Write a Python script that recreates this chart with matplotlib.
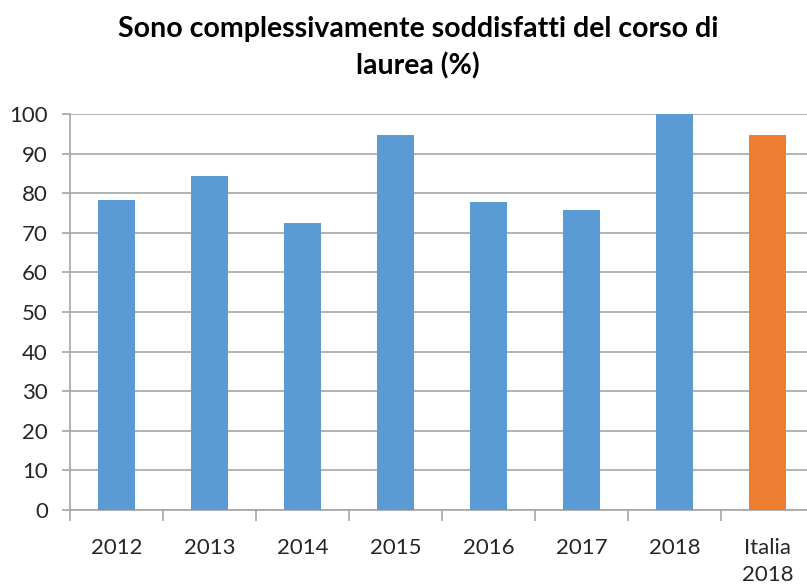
import numpy as np
import matplotlib.pyplot as plt

# data
categories = ['2012', '2013', '2014', '2015', '2016', '2017', '2018', 'Italia\n2018']
values = [78.3, 84.4, 72.5, 94.6, 77.9, 75.8, 100.0, 94.8]
bar_colors = ['#5B9BD5'] * 7 + ['#ED7D31']
title = 'Sono complessivamente soddisfatti del corso di\nlaurea (%)'

fig = plt.figure(figsize=(8.07, 5.84), dpi=100)
ax = fig.add_axes([70/807, 74/584, 744/807, 396/584])

x = np.arange(len(categories))
ax.bar(x, values, width=0.4, color=bar_colors, zorder=3)

# axes and grid
ax.set_ylim(0, 100)
ax.set_xlim(-0.5, len(categories) - 0.5)
ax.set_yticks(np.arange(0, 101, 10))
ax.yaxis.grid(True, color='#a6a6a6', linewidth=1.2, zorder=0)
for side in ['top', 'right']:
    ax.spines[side].set_visible(False)
for side in ['left', 'bottom']:
    ax.spines[side].set_color('#a6a6a6')
    ax.spines[side].set_linewidth(1.2)
ax.tick_params(axis='y', length=6, width=1.2, color='#a6a6a6', labelsize=16, pad=10)
ax.set_xticks(x)
ax.set_xticklabels(categories, va='top', linespacing=1.45)
ax.tick_params(axis='x', which='major', length=0, labelsize=16, pad=20)
ax.set_xticks(np.arange(-0.5, len(categories), 1), minor=True)
ax.tick_params(axis='x', which='minor', length=8, width=1.2, color='#a6a6a6')
for lab in ax.get_xticklabels() + ax.get_yticklabels():
    lab.set_fontfamily('Lato')
    lab.set_color('#262626')

fig.text(418/807, 1 - 48/584, title, ha='center', va='center', fontsize=20.5,
         fontweight='bold', family='Lato', linespacing=1.45, color='#000000')

fig.savefig('out.png', dpi=100)
